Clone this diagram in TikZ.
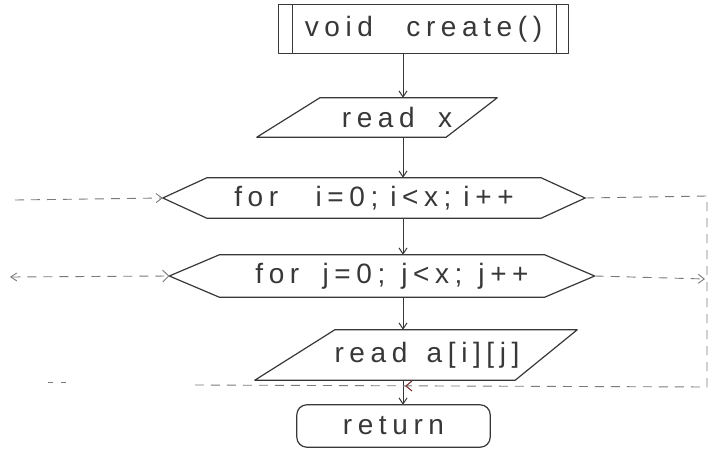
\documentclass[tikz,border=0pt]{standalone}
\usepackage{fontspec}
\newfontfamily\handfont{Liberation Sans}[LetterSpace=20]
\usetikzlibrary{arrows.meta}
\definecolor{ink}{HTML}{383838}
\definecolor{pale}{HTML}{7A7A7A}
\definecolor{redink}{HTML}{7A3535}
\begin{document}
\begin{tikzpicture}[x=1pt,y=-1pt,
  box/.style={draw=none,inner sep=0pt,text=ink,font=\handfont\fontsize{28}{32}\selectfont},
  shapeline/.style={draw=ink,line width=1.2pt,line join=round},
  flow/.style={draw=ink,line width=1pt,-{Straight Barb[length=6pt,width=8pt]}},
  loop/.style={draw=pale,line width=0.9pt,dash pattern=on 9pt off 7pt},
  looparrow/.style={loop,-{Straight Barb[length=6pt,width=9pt]}}]
\useasboundingbox[fill=white] (0,0) rectangle (710,452);
\coordinate (fx) at (403,0);

% start
\node[box,minimum width=289,minimum height=48] (start) at (423.5,29) {void\hspace{20pt} create()};
\draw[shapeline] (start.north west) rectangle (start.south east);
\draw[shapeline] ([xshift=14]start.north west) -- ([xshift=14]start.south west);
\draw[shapeline] ([xshift=-12]start.north east) -- ([xshift=-12]start.south east);

% read x
\node[box,minimum width=240,minimum height=39] (rx) at (377,117.5) {\hspace*{40pt}read\hspace{10pt} x};
\draw[shapeline] ([xshift=63]rx.north west) -- (rx.north east) -- ([xshift=-51]rx.south east) -- (rx.south west) -- cycle;

% for i
\node[box,minimum width=422,minimum height=40] (fi) at (374,198) {for\hspace{24pt} i=0;\hspace{12pt}i<x;\hspace{12pt}i++};
\draw[shapeline] (fi.west) -- ([xshift=44]fi.north west) -- ([xshift=-44]fi.north east) -- (fi.east) -- ([xshift=-44]fi.south east) -- ([xshift=44]fi.south west) -- cycle;

% for j
\node[box,minimum width=425,minimum height=42] (fj) at (382,276) {\hspace*{20pt}for\hspace{10pt} j=0;\hspace{16pt}j<x;\hspace{16pt}j++};
\draw[shapeline] (fj.west) -- ([xshift=50]fj.north west) -- ([xshift=-50]fj.north east) -- (fj.east) -- ([xshift=-50]fj.south east) -- ([xshift=50]fj.south west) -- cycle;

% read a[i][j]
\node[box,minimum width=322,minimum height=50] (ra) at (416,355) {\hspace*{22pt}read\hspace{6pt} a[i][j]};
\draw[shapeline] ([xshift=80]ra.north west) -- (ra.north east) -- ([xshift=-62]ra.south east) -- (ra.south west) -- cycle;

% return
\node[box,minimum width=193,minimum height=42] (ret) at (393.5,426) {return};
\draw[shapeline,rounded corners=10pt] (ret.north west) rectangle (ret.south east);

% flow arrows
\draw[flow] (start.south -| fx) -- (rx.north -| fx);
\draw[flow] (rx.south -| fx) -- (fi.north -| fx);
\draw[flow] (fi.south -| fx) -- (fj.north -| fx);
\draw[flow] (fj.south -| fx) -- (ra.north -| fx);
\draw[flow] (ra.south -| fx) -- (ret.north -| fx);

% loop lines
\coordinate (inI) at (15,200);
\coordinate (outJ) at (10,277);
\coordinate (c1) at (707,196);
\coordinate (c2) at (707,387);
\coordinate (c3) at (193,385);
\coordinate (c4) at (705,279);
\coordinate (s1) at (48,382);
\coordinate (s2) at (68,382);
\draw[looparrow] (inI) -- (fi.west);
\draw[loop,{Straight Barb[length=6pt,width=8pt]}-{Straight Barb[length=6pt,width=12pt]}] (outJ) -- (fj.west);
\draw[looparrow] (fj.east) -- (c4);
\draw[loop] (fi.east) -- (c1) -- (c2) -- (c3);
\draw[draw=pale,line width=0.8pt,dash pattern=on 5pt off 8pt] (s1) -- (s2);
\draw[redink,line width=1.1pt] (412,381) -- (406,386) -- (412,391);
\end{tikzpicture}
\end{document}
